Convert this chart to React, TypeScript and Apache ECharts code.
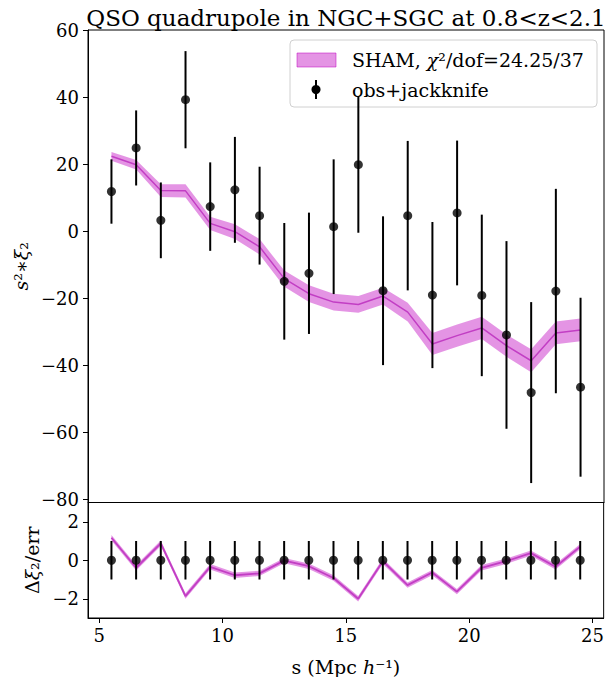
import React, { useEffect, useRef } from "react";
import * as echarts from "echarts";

const sVals = [5.5, 6.5, 7.5, 8.5, 9.5, 10.5, 11.5, 12.5, 13.5, 14.5, 15.5, 16.5, 17.5, 18.5, 19.5, 20.5, 21.5, 22.5, 23.5, 24.5];
const obsXi = [11.8, 24.8, 3.2, 39.2, 7.3, 12.3, 4.6, -15.0, -12.6, 1.3, 19.8, -17.8, 4.6, -19.1, 5.4, -19.2, -31.0, -48.2, -17.9, -46.6];
const obsErr = [9.6, 11.2, 11.3, 14.5, 13.2, 15.8, 14.6, 17.4, 18.1, 20.1, 20.3, 22.2, 22.3, 21.8, 21.6, 24.1, 28.0, 27.0, 30.5, 26.7];
const shamMean = [22.3, 19.8, 12.1, 12.0, 2.3, -0.2, -4.7, -14.2, -18.7, -21.2, -21.9, -19.4, -24.2, -33.7, -31.2, -28.9, -34.2, -38.7, -30.4, -29.5];
const shamErr = [1.3, 1.4, 1.9, 2.0, 2.0, 2.2, 2.3, 2.4, 2.5, 2.5, 2.5, 2.5, 2.8, 3.3, 3.3, 3.3, 3.3, 3.4, 3.4, 3.4];
const residual = [1.17, -0.39, 0.88, -1.86, -0.34, -0.78, -0.68, -0.02, -0.31, -0.92, -2.0, -0.05, -1.29, -0.64, -1.63, -0.39, -0.05, 0.37, -0.34, 0.71];
const residualErr = [0.14, 0.14, 0.14, 0.14, 0.14, 0.14, 0.14, 0.14, 0.14, 0.14, 0.14, 0.14, 0.14, 0.14, 0.14, 0.14, 0.14, 0.14, 0.14, 0.14];
const xTicks = [5, 10, 15, 20, 25];
const yTopTicks = [-80, -60, -40, -20, 0, 20, 40, 60];
const yBotTicks = [-2, 0, 2];

const FONT = "DejaVu Serif";
const BAND = "rgba(191,0,191,0.42)";
const LINE = "#c23ec4";

const fmt = (v: number) => String(v).replace("-", "\u2212");

function bandSeries(xi: number, means: number[], errs: number[]) {
  const data = sVals.map((s, i) => [s, means[i] - errs[i], means[i] + errs[i]]);
  return {
    type: "custom",
    xAxisIndex: xi,
    yAxisIndex: xi,
    silent: true,
    z: 1,
    data,
    encode: { x: 0, y: [1, 2] },
    renderItem: (params: any, api: any) => {
      if (params.dataIndex !== 0) return null;
      const upper = data.map((d) => api.coord([d[0], d[2]]));
      const lower = data.map((d) => api.coord([d[0], d[1]])).reverse();
      return {
        type: "polygon",
        shape: { points: upper.concat(lower) },
        style: { fill: BAND, stroke: null },
      };
    },
  };
}

function errSeries(xi: number, vals: number[], errs: number[]) {
  return {
    type: "custom",
    xAxisIndex: xi,
    yAxisIndex: xi,
    silent: true,
    z: 3,
    data: sVals.map((s, i) => [s, vals[i] - errs[i], vals[i] + errs[i]]),
    encode: { x: 0, y: [1, 2] },
    renderItem: (params: any, api: any) => {
      const x = api.value(0);
      const p1 = api.coord([x, api.value(1)]);
      const p2 = api.coord([x, api.value(2)]);
      return {
        type: "line",
        shape: { x1: p1[0], y1: p1[1], x2: p2[0], y2: p2[1] },
        style: { stroke: "#000", lineWidth: 2 },
      };
    },
  };
}

export default function App() {
  const ref = useRef<HTMLDivElement>(null);
  useEffect(() => {
    if (!ref.current) return;
    const chart = echarts.init(ref.current, null, { renderer: "svg" });
    const axisCommon = {
      axisLine: { show: true, onZero: false, lineStyle: { color: "#000", width: 1 } },
      splitLine: { show: false },
    };
    const labelStyle = { color: "#000", fontFamily: FONT, fontSize: 18 };
    const richName = {
      n: { fontFamily: FONT, fontSize: 19, color: "#000" },
      i: { fontFamily: FONT, fontSize: 19, fontStyle: "italic", color: "#000" },
    };
    const option: any = {
      animation: false,
      backgroundColor: "#fff",
      title: {
        text: "QSO quadrupole in NGC+SGC at 0.8<z<2.1",
        left: 341,
        top: 1,
        textAlign: "center",
        textStyle: { fontFamily: FONT, fontSize: 23, fontWeight: "normal", color: "#000" },
      },
      grid: [
        { left: 88, right: 3, top: 30, height: 472.5, show: true, borderColor: "#000", borderWidth: 1, backgroundColor: "transparent" },
        { left: 88, right: 3, top: 502.5, height: 119.5, show: true, borderColor: "#000", borderWidth: 1, backgroundColor: "transparent" },
      ],
      xAxis: [
        {
          gridIndex: 0, type: "value", min: 4.55, max: 25.45,
          ...axisCommon,
          axisTick: { show: false },
          axisLabel: { show: false },
        },
        {
          gridIndex: 1, type: "value", min: 4.55, max: 25.45,
          ...axisCommon,
          axisTick: { show: true, length: 5, customValues: xTicks, lineStyle: { color: "#000" } },
          axisLabel: { ...labelStyle, margin: 8, customValues: xTicks, formatter: fmt },
          name: "{n|s (Mpc }{i|h}{n|\u207B\u00B9)}",
          nameLocation: "middle",
          nameGap: 39,
          nameTextStyle: { rich: richName },
        },
      ],
      yAxis: [
        {
          gridIndex: 0, type: "value", min: -81, max: 60,
          ...axisCommon,
          axisTick: { show: true, length: 5, customValues: yTopTicks, lineStyle: { color: "#000" } },
          axisLabel: { ...labelStyle, margin: 9, customValues: yTopTicks, formatter: fmt },
          name: "{i|s}{n|\u00B2\u2217}{i|\u03BE}{n|\u2082}",
          nameLocation: "middle",
          nameGap: 56,
          nameRotate: 90,
          nameTextStyle: { rich: richName },
        },
        {
          gridIndex: 1, type: "value", min: -3, max: 3,
          ...axisCommon,
          axisTick: { show: true, length: 5, customValues: yBotTicks, lineStyle: { color: "#000" } },
          axisLabel: { ...labelStyle, margin: 9, customValues: yBotTicks, formatter: fmt },
          name: "{n|\u0394}{i|\u03BE}{n|\u2082/err}",
          nameLocation: "middle",
          nameGap: 45,
          nameRotate: 90,
          nameTextStyle: { rich: richName },
        },
      ],
      series: [
        bandSeries(0, shamMean, shamErr),
        {
          type: "line", xAxisIndex: 0, yAxisIndex: 0, z: 2, silent: true,
          data: sVals.map((s, i) => [s, shamMean[i]]),
          symbol: "none",
          lineStyle: { color: LINE, width: 1.5 },
        },
        errSeries(0, obsXi, obsErr),
        {
          type: "scatter", xAxisIndex: 0, yAxisIndex: 0, z: 4, silent: true,
          data: sVals.map((s, i) => [s, obsXi[i]]),
          symbol: "circle", symbolSize: 9,
          itemStyle: { color: "#000" },
        },
        bandSeries(1, residual, residualErr),
        {
          type: "line", xAxisIndex: 1, yAxisIndex: 1, z: 2, silent: true,
          data: sVals.map((s, i) => [s, residual[i]]),
          symbol: "none",
          lineStyle: { color: LINE, width: 1.8 },
        },
        errSeries(1, sVals.map(() => 0), sVals.map(() => 1)),
        {
          type: "scatter", xAxisIndex: 1, yAxisIndex: 1, z: 4, silent: true,
          data: sVals.map((s) => [s, 0]),
          symbol: "circle", symbolSize: 9,
          itemStyle: { color: "#000" },
        },
      ],
      graphic: [
        {
          type: "group",
          z: 100,
          children: [
            { type: "rect", shape: { x: 290, y: 40, width: 307, height: 67, r: 4 }, style: { fill: "rgba(255,255,255,0.8)", stroke: "#d0d0d0", lineWidth: 1 } },
            { type: "rect", shape: { x: 297, y: 53, width: 39, height: 14 }, style: { fill: BAND, stroke: "rgba(191,0,191,0.5)", lineWidth: 1 } },
            { type: "line", shape: { x1: 316, y1: 80, x2: 316, y2: 99 }, style: { stroke: "#000", lineWidth: 2 } },
            { type: "circle", shape: { cx: 316, cy: 89.5, r: 4.5 }, style: { fill: "#000" } },
            {
              type: "text", x: 352, y: 60,
              style: {
                text: "{n|SHAM, }{i|\u03C7}{n|\u00B2/dof=24.25/37}",
                verticalAlign: "middle",
                rich: {
                  n: { fontFamily: FONT, fontSize: 19, fill: "#000" },
                  i: { fontFamily: FONT, fontSize: 19, fontStyle: "italic", fill: "#000" },
                },
              },
            },
            {
              type: "text", x: 352, y: 90,
              style: { text: "obs+jackknife", fontFamily: FONT, fontSize: 19, fill: "#000", verticalAlign: "middle" },
            },
          ],
        },
      ],
    };
    chart.setOption(option);
    return () => chart.dispose();
  }, []);
  return <div ref={ref} style={{ position: "fixed", left: 0, top: 0, width: 607, height: 677 }} />;
}
